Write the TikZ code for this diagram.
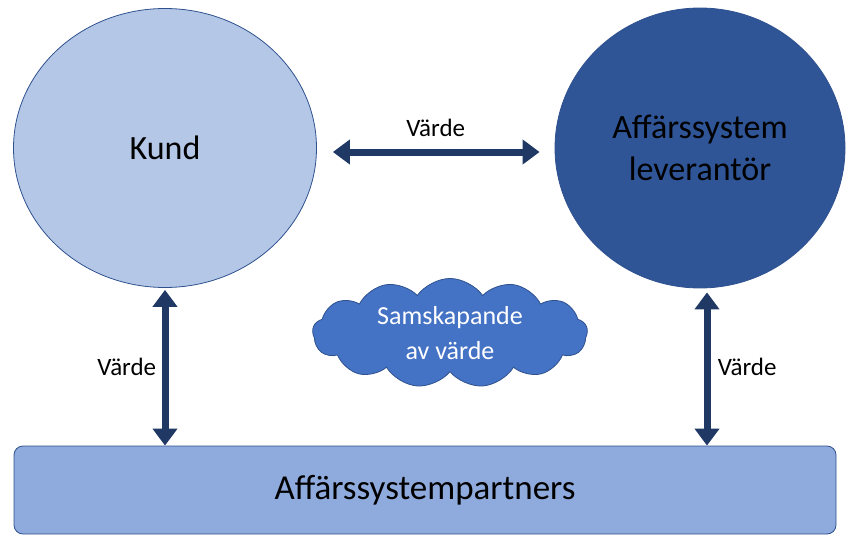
\documentclass[tikz,border=0pt]{standalone}
\usepackage{fontspec}
\setmainfont{Carlito}
\usepackage{tikz}
\usetikzlibrary{positioning}
\usetikzlibrary{shapes.geometric,shapes.symbols}
\usetikzlibrary{arrows.meta}
\definecolor{kundcol}{HTML}{B4C7E7}
\definecolor{levcol}{HTML}{2F5597}
\definecolor{cloudcol}{HTML}{4472C4}
\definecolor{partcol}{HTML}{8FAADC}
\definecolor{edgecol}{HTML}{2F528F}
\definecolor{arrcol}{HTML}{203864}
\tikzset{>=latex}

\begin{document}
\begin{tikzpicture}[x=1pt, y=-1pt,
  actor/.style={ellipse, draw=edgecol, line width=0.8pt, inner sep=0pt, align=center},
  varde/.style={draw=arrcol, line width=7pt,
    {Triangle[width=24pt,length=17pt]}-{Triangle[width=24pt,length=17pt]}},
  vlabel/.style={font=\fontsize{25}{28}\selectfont}]

% Frame
\useasboundingbox (0,0) rectangle (846,535);

% Actors
\node[actor, fill=kundcol, minimum width=303pt, minimum height=279pt,
  font=\fontsize{34}{40}\selectfont] (kund) at (165,148) {Kund};
\node[actor, fill=levcol, minimum width=290pt, minimum height=280pt,
  font=\fontsize{34}{42}\selectfont] (lev) at (700,148) {Affärssystem\\leverantör};

% Partners bar
\node[draw=edgecol, line width=0.8pt, fill=partcol, rounded corners=9pt,
  minimum width=822pt, minimum height=88pt,
  font=\fontsize{35}{40}\selectfont] (part) at (425,490) {Affärssystempartners};

% Cloud
\node[cloud, cloud puffs=13, cloud puff arc=110, cloud ignores aspect,
  draw=edgecol, line width=0.8pt, fill=cloudcol, text=white,
  minimum width=275pt, minimum height=88pt, align=center,
  font=\fontsize{26}{35}\selectfont] (cloud) at (450,333) {Samskapande\\av värde};

% Value arrows
\draw[varde, shorten <=16pt, shorten >=15pt]
  ([yshift=-4pt]kund.east) -- ([yshift=-4pt]lev.west)
  node[midway, above=8pt, vlabel] (v1) {Värde};
\draw[varde, shorten <=2pt] (kund.south) -- (kund.south |- part.north)
  node[midway, left=2pt, vlabel] (v2) {Värde};
\coordinate (levfoot) at ([xshift=7pt]lev.south);
\draw[varde, shorten <=4pt] (levfoot) -- (levfoot |- part.north)
  node[midway, right=4pt, vlabel] (v3) {Värde};

\end{tikzpicture}
\end{document}
